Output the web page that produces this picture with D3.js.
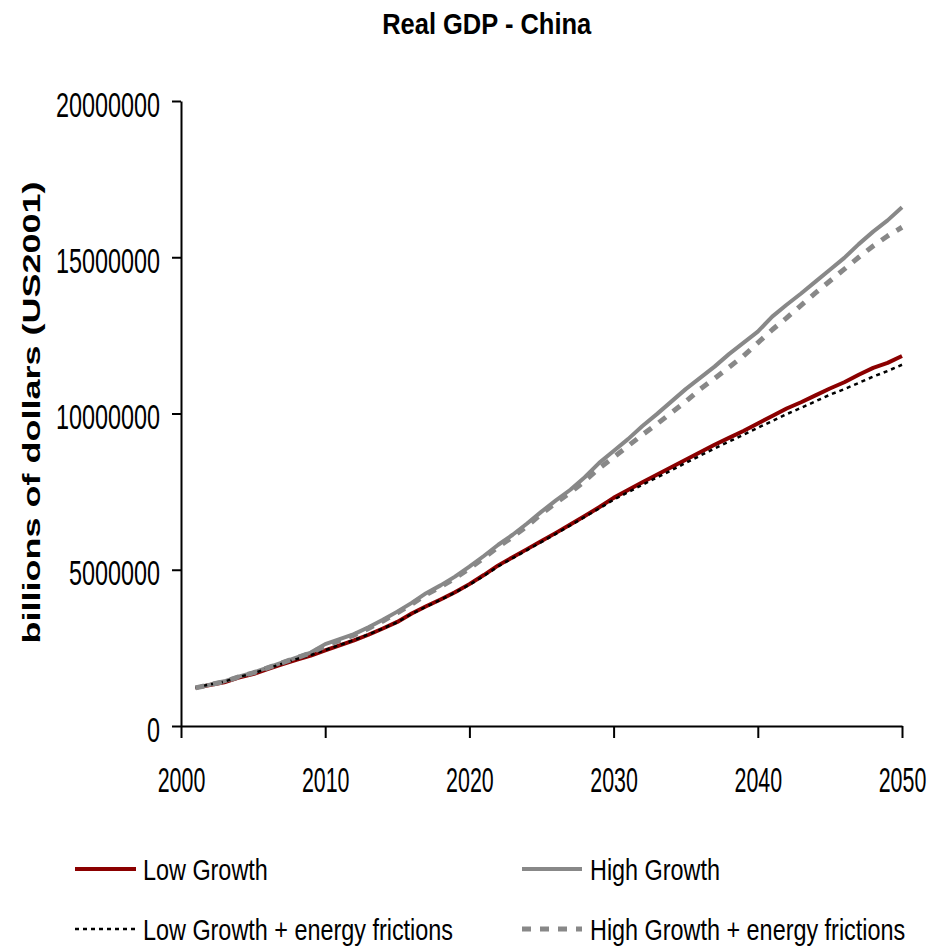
<!DOCTYPE html>
<html>
<head>
<meta charset="utf-8">
<script src="https://cdn.jsdelivr.net/npm/d3@7/dist/d3.min.js"></script>
<style>
  html, body { margin: 0; padding: 0; background: #ffffff; }
  svg { display: block; }
  text { font-family: "Liberation Sans", Arial, sans-serif; fill: #000; }
</style>
</head>
<body>
<svg id="chart" width="930" height="950"></svg>
<script>
// ---------- data ----------
const years = [2001,2002,2003,2004,2005,2006,2007,2008,2009,2010,
               2011,2012,2013,2014,2015,2016,2017,2018,2019,2020,
               2021,2022,2023,2024,2025,2026,2027,2028,2029,2030,
               2031,2032,2033,2034,2035,2036,2037,2038,2039,2040,
               2041,2042,2043,2044,2045,2046,2047,2048,2049,2050];

const lowGrowth = [1220000,1310000,1400000,1550000,1660000,1820000,1970000,2120000,2250000,2420000,
                   2580000,2740000,2920000,3120000,3330000,3600000,3830000,4050000,4280000,4540000,
                   4830000,5140000,5400000,5660000,5920000,6180000,6450000,6720000,7000000,7300000,
                   7550000,7800000,8040000,8280000,8520000,8760000,9000000,9220000,9440000,9680000,
                   9920000,10160000,10360000,10580000,10800000,11000000,11240000,11460000,11620000,11840000];

const highGrowth = [1220000,1320000,1430000,1580000,1710000,1870000,2030000,2190000,2350000,2620000,
                    2780000,2940000,3160000,3400000,3660000,3940000,4250000,4500000,4780000,5100000,
                    5440000,5800000,6120000,6480000,6860000,7220000,7560000,7960000,8420000,8800000,
                    9180000,9600000,9980000,10380000,10780000,11140000,11500000,11900000,12260000,12620000,
                    13100000,13480000,13840000,14220000,14600000,14980000,15420000,15820000,16180000,16600000];

const lowGrowthFric = [1230000,1330000,1420000,1570000,1680000,1840000,1990000,2140000,2270000,2430000,
                       2590000,2750000,2930000,3120000,3320000,3590000,3820000,4040000,4270000,4520000,
                       4800000,5110000,5370000,5630000,5890000,6150000,6420000,6690000,6960000,7240000,
                       7480000,7720000,7950000,8180000,8420000,8650000,8880000,9100000,9320000,9540000,
                       9760000,9980000,10180000,10390000,10600000,10780000,10980000,11180000,11360000,11560000];

const highGrowthFric = [1220000,1320000,1420000,1570000,1700000,1860000,2020000,2180000,2340000,2560000,
                        2740000,2910000,3120000,3360000,3620000,3900000,4200000,4450000,4730000,5040000,
                        5380000,5730000,6050000,6400000,6790000,7140000,7470000,7840000,8250000,8600000,
                        8960000,9320000,9660000,10020000,10380000,10780000,11120000,11480000,11840000,12260000,
                        12680000,13060000,13460000,13860000,14240000,14620000,15000000,15360000,15680000,15960000];

const xTicks = [2000, 2010, 2020, 2030, 2040, 2050];
const yTicks = [0, 5000000, 10000000, 15000000, 20000000];

const seriesNames = ["Low Growth", "High Growth", "Low Growth + energy frictions", "High Growth + energy frictions"];

// ---------- layout / styles ----------
const svg = d3.select("#chart");
const x = d3.scaleLinear().domain([2000, 2050]).range([181, 902]);
const y = d3.scaleLinear().domain([0, 20000000]).range([726, 101]);

const styles = [
  { data: lowGrowth,      color: "#8b0000", width: 4,   dash: null },
  { data: highGrowth,     color: "#888888", width: 4,   dash: null },
  { data: lowGrowthFric,  color: "#000000", width: 2.5, dash: "4,4" },
  { data: highGrowthFric, color: "#888888", width: 5,   dash: "9,9" }
];

// ---------- axes ----------
const yAxis = svg.append("g")
  .attr("transform", "translate(181,0)")
  .call(d3.axisLeft(y).tickValues(yTicks).tickFormat(d3.format("d"))
        .tickSize(9).tickSizeOuter(0).tickPadding(12));
yAxis.selectAll("path, line").attr("stroke", "#000").attr("stroke-width", 2);
yAxis.selectAll("text")
  .attr("font-size", 23.4)
  .attr("dy", "0.43em")
  .attr("transform", "scale(1,1.49)")
  .style("font-family", "'Liberation Sans', Arial, sans-serif")
  .attr("fill", "#000");

const xAxis = svg.append("g")
  .attr("transform", "translate(0,726)")
  .call(d3.axisBottom(x).tickValues(xTicks).tickFormat(d3.format("d"))
        .tickSize(12).tickSizeOuter(0));
xAxis.selectAll("path, line").attr("stroke", "#000").attr("stroke-width", 2);
xAxis.selectAll("text")
  .attr("font-size", 21.4)
  .attr("y", 0)
  .attr("dy", 0)
  .attr("transform", "translate(0,66) scale(1,1.6)")
  .style("font-family", "'Liberation Sans', Arial, sans-serif")
  .attr("fill", "#000");

// ---------- lines ----------
const line = d3.line().x((d, i) => x(years[i])).y(d => y(d));
styles.forEach(s => {
  svg.append("path")
    .datum(s.data)
    .attr("d", line)
    .attr("fill", "none")
    .attr("stroke", s.color)
    .attr("stroke-width", s.width)
    .attr("stroke-linejoin", "round")
    .attr("stroke-dasharray", s.dash);
});

// ---------- text helper ----------
function label(str, tx, ty, fs, sx, sy, anchor, weight, rot) {
  svg.append("text")
    .attr("transform", `translate(${tx},${ty})` + (rot ? ` rotate(${rot})` : "") + ` scale(${sx},${sy})`)
    .attr("font-size", fs)
    .attr("font-weight", weight || "normal")
    .attr("text-anchor", anchor || "start")
    .text(str);
}

// title
label("Real GDP - China", 486.7, 33.5, 25.5, 1, 1.14, "middle", "bold");
// y axis title
label("billions of dollars (US2001)", 40, 412.5, 24, 1.5, 1, "middle", "bold", -90);

// ---------- legend ----------
const legendPos = [
  { x1: 75,  x2: 136, ly: 869, tx: 143, ty: 880 },
  { x1: 522, x2: 582, ly: 869, tx: 590, ty: 880 },
  { x1: 75,  x2: 136, ly: 929, tx: 143, ty: 940 },
  { x1: 522, x2: 582, ly: 929, tx: 590, ty: 940 }
];
styles.forEach((s, i) => {
  const p = legendPos[i];
  svg.append("line")
    .attr("x1", p.x1).attr("x2", p.x2)
    .attr("y1", p.ly).attr("y2", p.ly)
    .attr("stroke", s.color)
    .attr("stroke-width", s.width)
    .attr("stroke-dasharray", s.dash);
  label(seriesNames[i], p.tx, p.ty, 23.4, 1, 1.28, "start", "normal");
});
</script>
</body>
</html>
